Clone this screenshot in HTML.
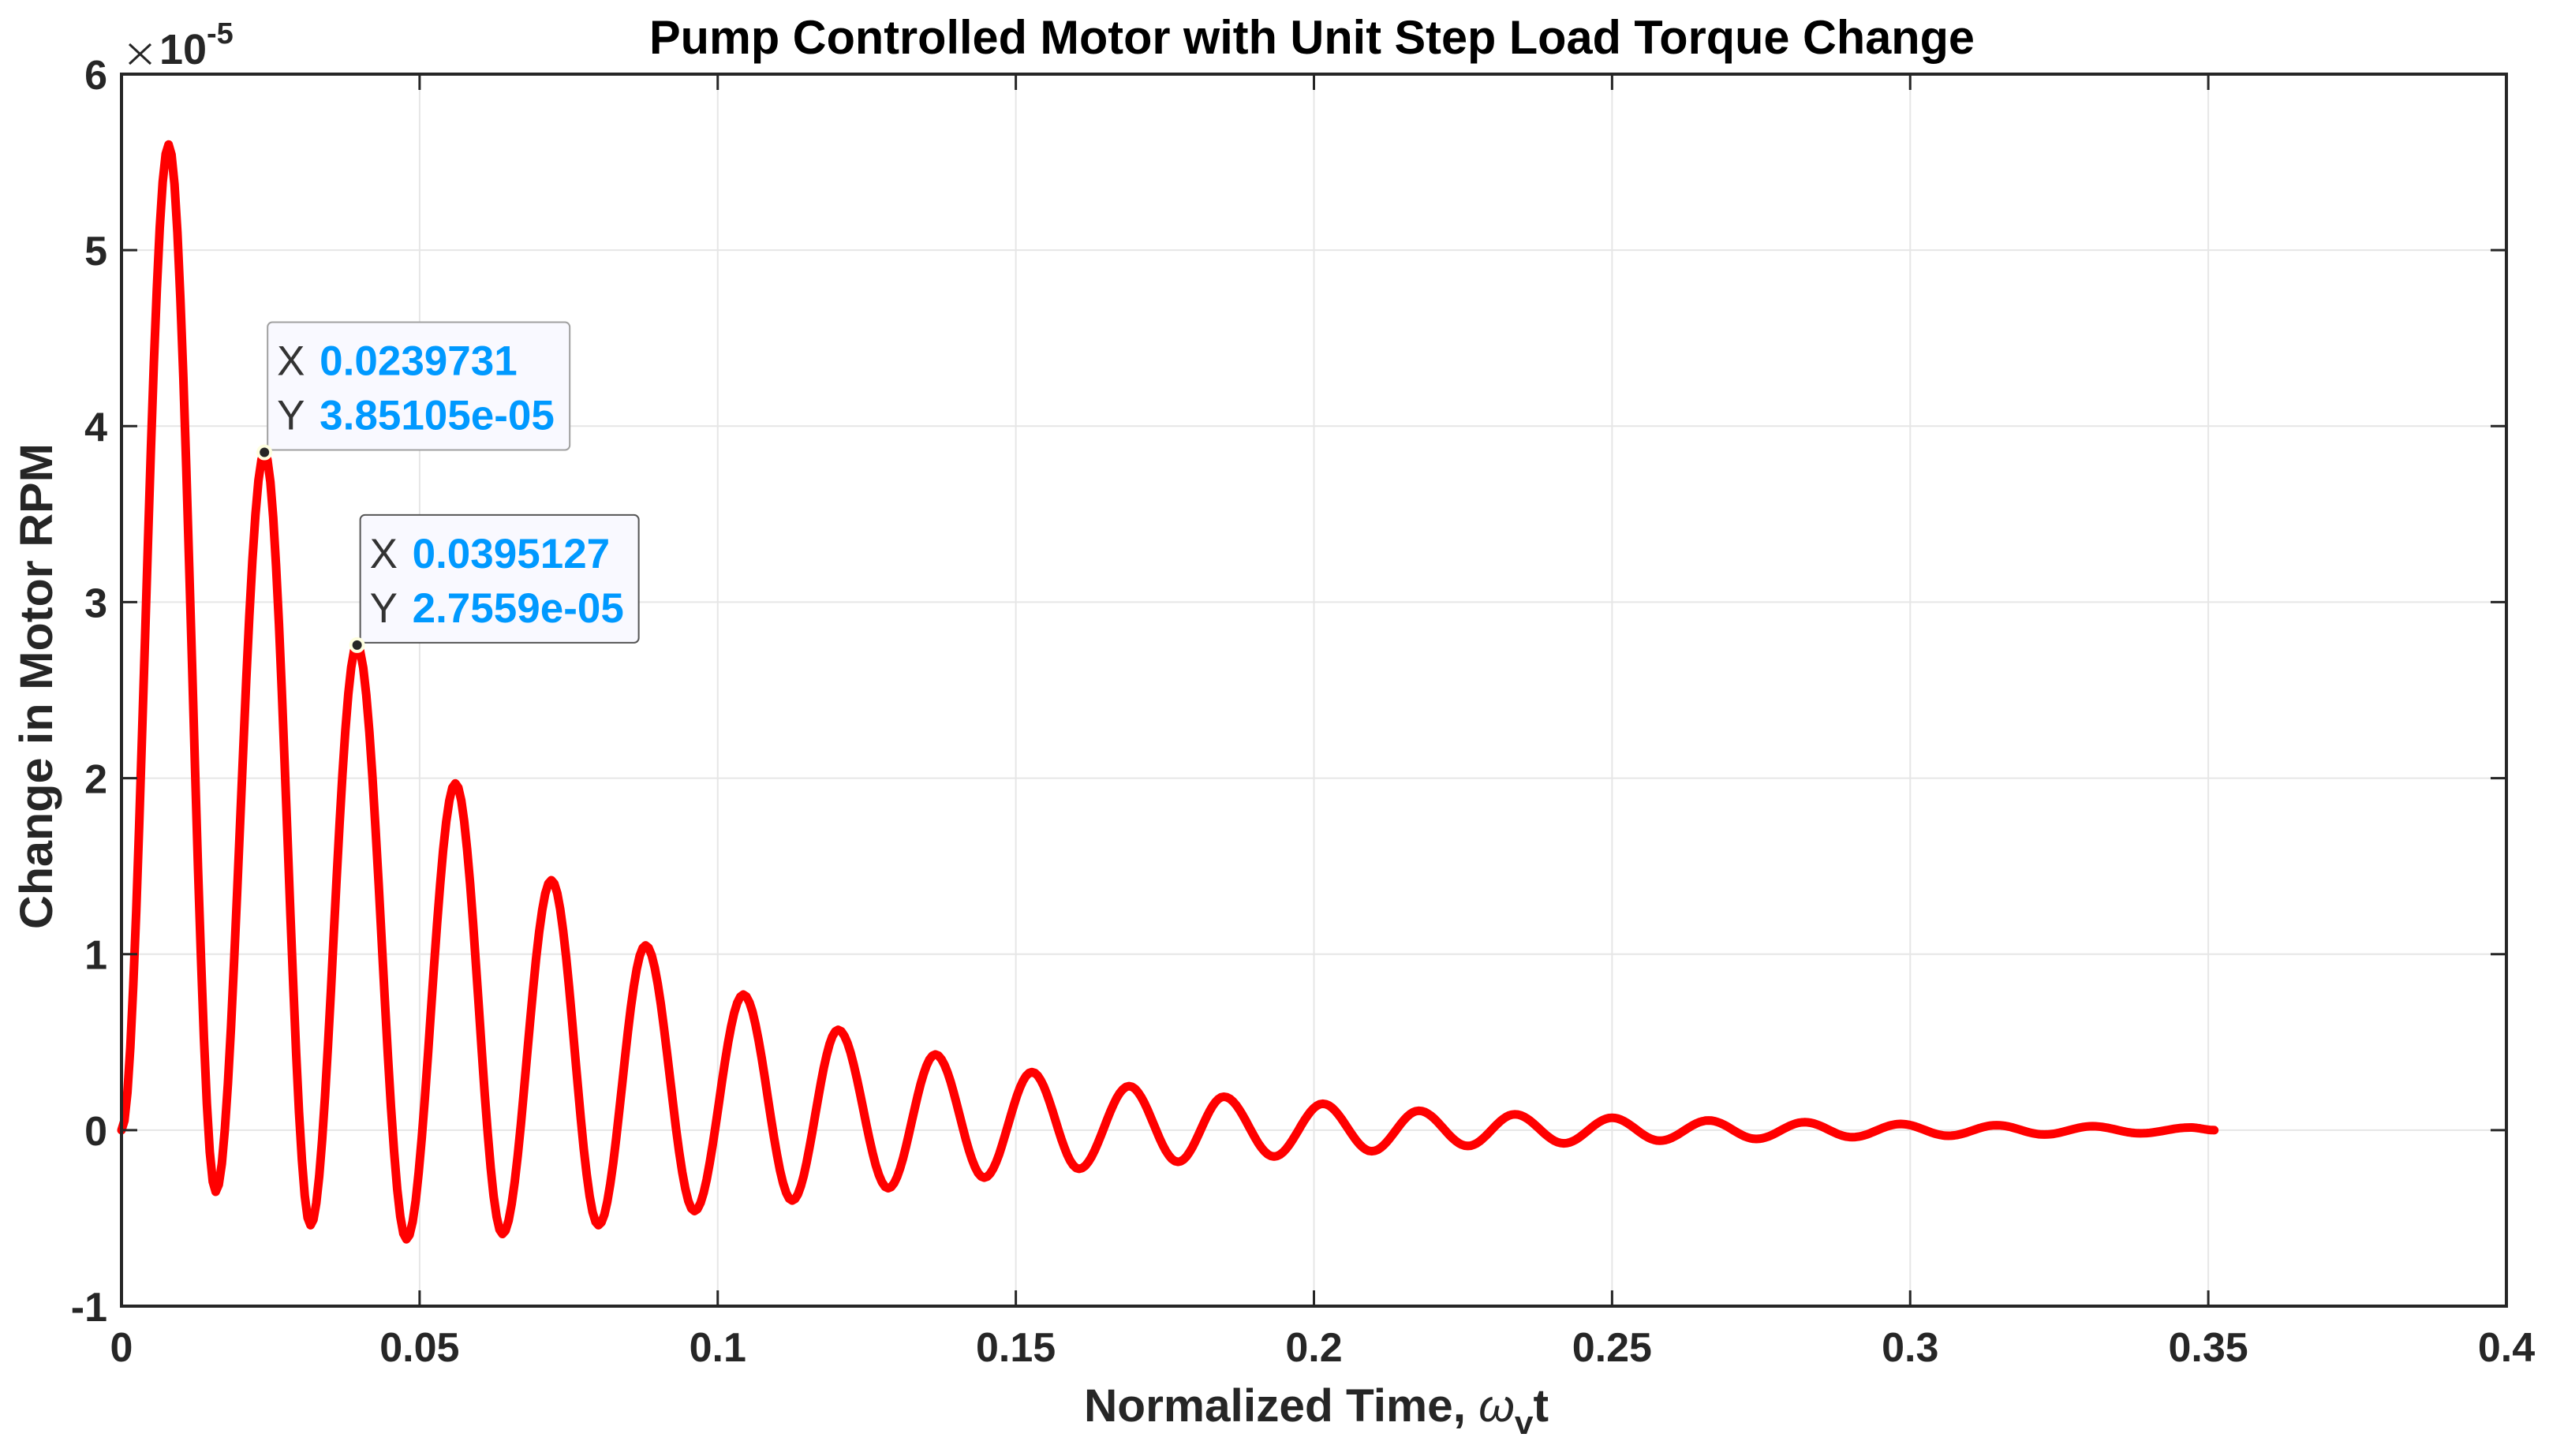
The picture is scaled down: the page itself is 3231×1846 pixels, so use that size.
<!DOCTYPE html>
<html><head><meta charset="utf-8"><style>
html,body{margin:0;padding:0;background:#fff;}
svg{display:block;font-family:"Liberation Sans",Arial,sans-serif;}
</style></head><body>
<svg id="chart" width="3231" height="1846" viewBox="0 0 3231 1846" xmlns="http://www.w3.org/2000/svg">
<rect x="0" y="0" width="3231" height="1846" fill="#fff"/>
<g id="grid"></g>
<g id="series"></g>
<g id="axes"></g>
<g id="tips"></g>
<text x="823" y="68" font-size="60" font-weight="bold" fill="#000" textLength="1680" lengthAdjust="spacingAndGlyphs">Pump Controlled Motor with Unit Step Load Torque Change</text>
<text x="1374" y="1802" font-size="58" font-weight="bold" fill="#262626" textLength="589" lengthAdjust="spacingAndGlyphs">Normalized Time, <tspan font-style="italic" font-weight="normal">ω</tspan><tspan font-size="42" dy="16">v</tspan><tspan dy="-16">t</tspan></text>
<text transform="translate(66,870) rotate(-90)" text-anchor="middle" font-size="58" font-weight="bold" fill="#262626" textLength="616" lengthAdjust="spacingAndGlyphs">Change in Motor RPM</text>
<g fill="#262626">
<line x1="164" y1="56" x2="191" y2="81" stroke="#262626" stroke-width="3"/>
<line x1="191" y1="56" x2="164" y2="81" stroke="#262626" stroke-width="3"/>
<text x="202" y="81" font-size="54" font-weight="bold">10</text>
<text x="262" y="55" font-size="38" font-weight="bold">-5</text>
</g>
</svg>
<script>
const xTicks=[0,0.05,0.1,0.15,0.2,0.25,0.3,0.35,0.4];
const xTickLabels=["0","0.05","0.1","0.15","0.2","0.25","0.3","0.35","0.4"];
const yTicks=[-1,0,1,2,3,4,5,6];
const yTickLabels=["-1","0","1","2","3","4","5","6"];
// extrema of response (time, value in 1e-5 units)
const extremaT=[0,0.0079,0.0158,0.0240,0.0317,0.0395,0.0478,0.0560,0.0639,0.0721,0.0800,0.0879,0.0961,0.1043,0.1125,0.1202,0.1286,0.1365,0.1447,0.1527,0.1606,0.1690,0.1772,0.1849,0.1933,0.2015,0.2097,0.2176,0.2258,0.2337,0.2419,0.2500,0.2580,0.2662,0.2742,0.2823,0.2903,0.2984,0.3064,0.3145,0.3225,0.3306,0.3386,0.3470,0.3510];
const extremaV=[0,5.6,-0.35,3.85105,-0.54,2.7559,-0.62,1.97,-0.59,1.42,-0.54,1.05,-0.46,0.77,-0.40,0.57,-0.33,0.43,-0.27,0.33,-0.22,0.25,-0.18,0.19,-0.15,0.15,-0.12,0.11,-0.09,0.09,-0.075,0.07,-0.06,0.055,-0.05,0.045,-0.04,0.035,-0.032,0.028,-0.025,0.022,-0.018,0.015,0.0];
const tipX=[0.0239731,0.0395127];
const tipY=[3.85105,2.7559];
const tipXLabels=["0.0239731","0.0395127"];
const tipYLabels=["3.85105e-05","2.7559e-05"];

const L=154,R=3177,T=94,B=1656;
const xs=v=>L+(v-0)/(0.4-0)*(R-L);
const ys=v=>B-(v-(-1))/(6-(-1))*(B-T);
const NS="http://www.w3.org/2000/svg";
function mk(tag,attrs,parent){const e=document.createElementNS(NS,tag);for(const k in attrs)e.setAttribute(k,attrs[k]);parent.appendChild(e);return e;}
const grid=document.getElementById('grid'),axes=document.getElementById('axes'),series=document.getElementById('series'),tips=document.getElementById('tips');

xTicks.forEach((v,i)=>{
  const x=xs(v);
  if(i>0&&i<xTicks.length-1){const g=mk('line',{x1:x,x2:x,y1:T,y2:B,stroke:'#e6e6e6','stroke-width':2},grid);
  
  }
  const t1=mk('line',{x1:x,x2:x,y1:B,y2:B-20,stroke:'#262626','stroke-width':3},axes);
  
  
  const t2=mk('line',{x1:x,x2:x,y1:T,y2:T+20,stroke:'#262626','stroke-width':3},axes);
  
  
  const lb=mk('text',{x:x,y:1726,'text-anchor':'middle','font-size':52,'font-weight':'bold',fill:'#262626'},axes);
  lb.textContent=xTickLabels[i];
  
  
});
yTicks.forEach((v,i)=>{
  const y=ys(v);
  if(i>0&&i<yTicks.length-1){const g=mk('line',{x1:L,x2:R,y1:y,y2:y,stroke:'#e6e6e6','stroke-width':2},grid);
  
  }
  const t1=mk('line',{x1:L,x2:L+20,y1:y,y2:y,stroke:'#262626','stroke-width':3},axes);
  
  
  const t2=mk('line',{x1:R,x2:R-20,y1:y,y2:y,stroke:'#262626','stroke-width':3},axes);
  
  
  const lb=mk('text',{x:136,y:y+19,'text-anchor':'end','font-size':52,'font-weight':'bold',fill:'#262626'},axes);
  lb.textContent=yTickLabels[i];
  
  
});
const box=mk('rect',{x:L,y:T,width:R-L,height:B-T,fill:'none',stroke:'#262626','stroke-width':4},axes);



let d='';
for(let i=0;i<extremaT.length-1;i++){
  const t0=extremaT[i],t1=extremaT[i+1],v0=extremaV[i],v1=extremaV[i+1];
  const n=16;
  for(let k=(i===0?0:1);k<=n;k++){
    const f=k/n,w=(1-Math.cos(Math.PI*f))/2;
    const px=xs(t0+(t1-t0)*f),py=ys(v0+(v1-v0)*w);
    d+=(d===''?'M':'L')+px.toFixed(1)+' '+py.toFixed(1);
  }
}
const line=mk('path',{d:d,fill:'none',stroke:'#ff0000','stroke-width':11,'stroke-linejoin':'round','stroke-linecap':'round'},series);



tipX.forEach((tx,i)=>{
  const px=xs(tx),py=ys(tipY[i]);
  const g=mk('g',{},tips);
  
  
  const bw=(i===0?383:353),bh=162,bx=px+4,by=py-bh-3;
  mk('rect',{x:bx,y:by,width:bw,height:bh,rx:6,fill:'#f9f9ff',stroke:(i===0?'#a0a0a0':'#555'),'stroke-width':2},g);
  const a=mk('text',{x:bx+12,y:by+67,'font-size':53,fill:'#333'},g);
  a.textContent='X';
  
  
  const b=mk('text',{x:bx+66,y:by+67,'font-size':53,'font-weight':'bold',fill:'#0099ff'},g);
  b.textContent=tipXLabels[i];
  
  
  const c=mk('text',{x:bx+12,y:by+136,'font-size':53,fill:'#333'},g);
  c.textContent='Y';
  
  
  const e=mk('text',{x:bx+66,y:by+136,'font-size':53,'font-weight':'bold',fill:'#0099ff'},g);
  e.textContent=tipYLabels[i];
  
  
  mk('circle',{cx:px,cy:py,r:8,fill:'#262626',stroke:'#ffffe0','stroke-width':4},g);
});
</script>
</body></html>
